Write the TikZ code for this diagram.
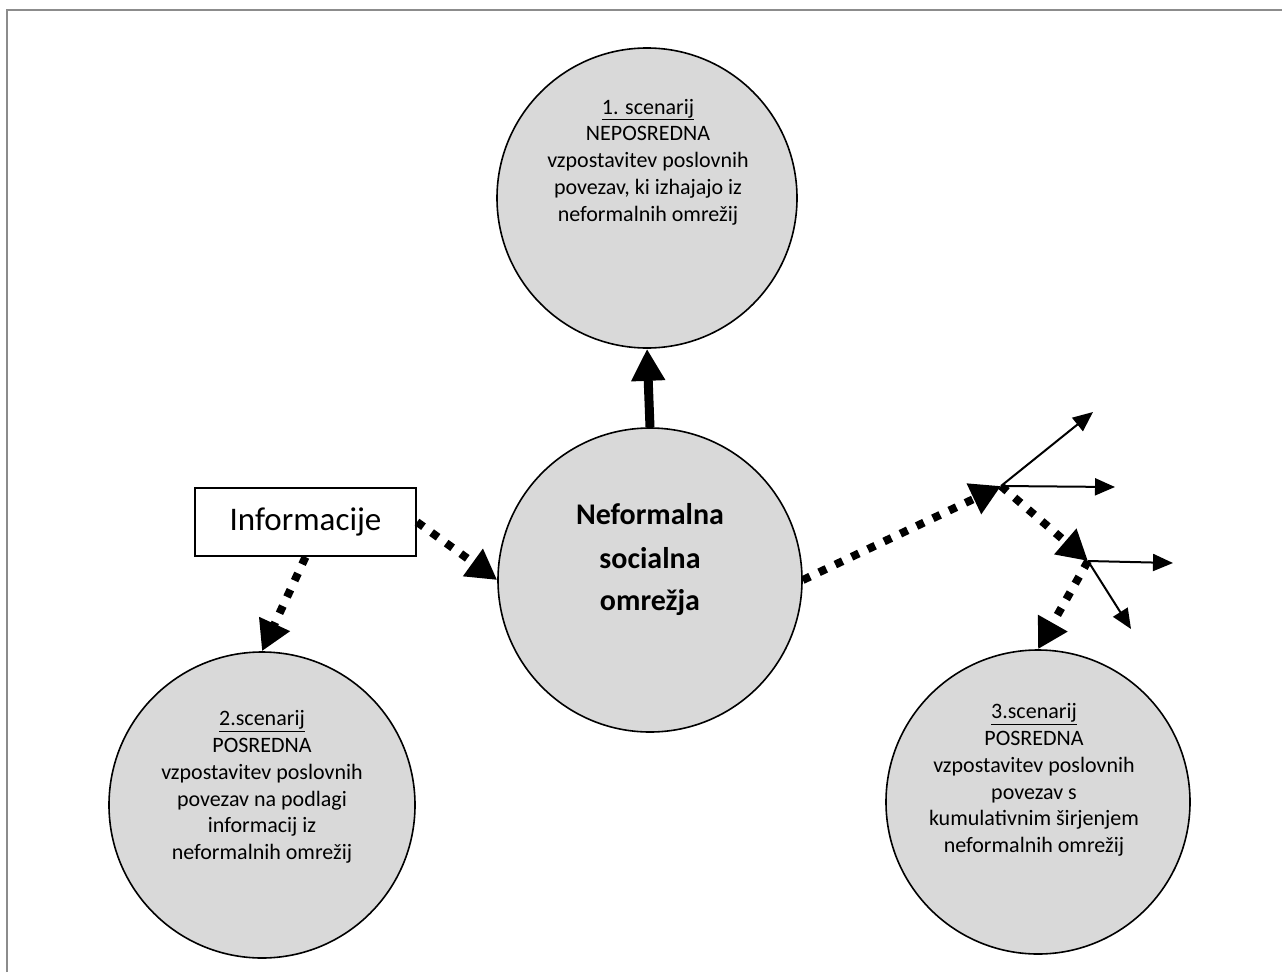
\documentclass[tikz,border=0pt]{standalone}
\usepackage{fontspec}
\setmainfont{Carlito}
\usetikzlibrary{arrows.meta}
\definecolor{circfill}{RGB}{217,217,217}
\definecolor{framegray}{RGB}{140,140,140}
\tikzset{
  scen/.style={circle, draw=black, line width=1.6pt, fill=circfill, minimum size=#1, inner sep=0pt},
  stxt/.style={align=center, font=\fontsize{22}{26.7}\selectfont, inner sep=0pt},
  dotarrow/.style={line width=8pt, dash pattern=on 8pt off 10pt, -{Triangle[length=30pt,width=32pt]}},
  thinarrow/.style={line width=2pt, -{Triangle[length=20pt,width=17pt]}},
  thickarrow/.style={line width=9pt, -{Triangle[length=32pt,width=32pt]}}
}
\begin{document}
\begin{tikzpicture}[x=1pt,y=-1pt]
\useasboundingbox (0,0) rectangle (1282,972);
\draw[framegray, line width=2pt] (7,972) -- (7,10) -- (1282,10);

\node[scen=300pt] (s1) at (647,198) {};
\node[stxt] (t1) at (648,162) {\underline{1. scenarij}\\NEPOSREDNA\\vzpostavitev poslovnih\\povezav, ki izhajajo iz\\neformalnih omrežij};

\node[scen=304pt] (nsm) at (650,580) {};
\node[align=center, font=\fontsize{30}{43}\bfseries\selectfont, inner sep=0pt] (tn) at (650,560) {Neformalna\\socialna\\omrežja};

\node[scen=306pt] (s2) at (262,805) {};
\node[stxt] (t2) at (262,787) {\underline{2.scenarij}\\POSREDNA\\vzpostavitev poslovnih\\povezav na podlagi\\informacij iz\\neformalnih omrežij};

\node[scen=304pt] (s3) at (1038,802) {};
\node[stxt] (t3) at (1034,780) {\underline{3.scenarij}\\POSREDNA\\vzpostavitev poslovnih\\povezav s\\kumulativnim širjenjem\\neformalnih omrežij};

\node[draw=black, line width=2pt, fill=white, minimum width=221pt, minimum height=68pt, inner sep=0pt, font=\fontsize{33}{38}\selectfont] (info) at (305.5,522) {Informacije};

\coordinate (j1) at (1001,486);
\coordinate (j2) at (1088,561);
\coordinate (e1) at (1093,412);
\coordinate (e2) at (1115,487);
\coordinate (e3) at (1173,563);
\coordinate (e4) at (1131,629);

\draw[thickarrow] (nsm.north) -- (s1.south);
\draw[dotarrow] (info.east) -- (nsm.west);
\draw[dotarrow] (info.south) -- (s2.north);
\draw[dotarrow] (nsm.east) -- (j1);
\draw[dotarrow] (j1) -- (j2);
\draw[dotarrow] (j2) -- (s3.north);
\draw[thinarrow] (j1) -- (e1);
\draw[thinarrow] (j1) -- (e2);
\draw[thinarrow] (j2) -- (e3);
\draw[thinarrow] (j2) -- (e4);
\end{tikzpicture}
\end{document}
